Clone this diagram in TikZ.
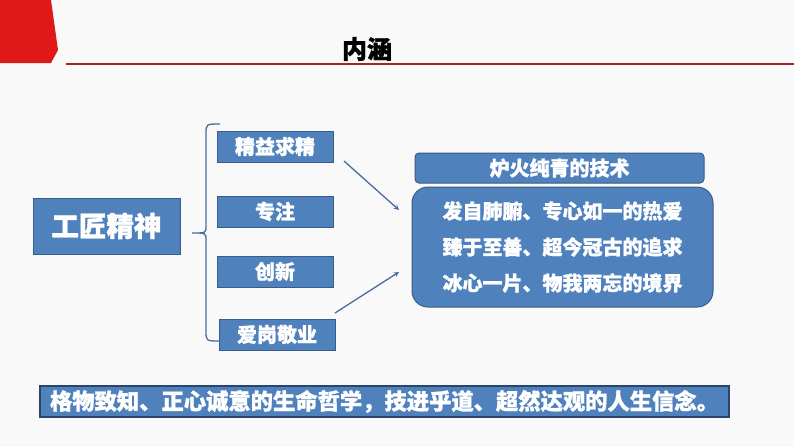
\documentclass[tikz,border=0pt]{standalone}
\usepackage{fontspec}
\setmainfont{Noto Sans CJK SC}[BoldFeatures={FakeBold=1.2}]
\usetikzlibrary{arrows}

\newlength{\du}
\setlength{\du}{10\unitlength}

\definecolor{pagebg}{rgb}{0.976000, 0.976000, 0.976000}
\definecolor{redmark}{rgb}{0.878000, 0.094000, 0.094000}
\definecolor{redline}{rgb}{0.620000, 0.150000, 0.150000}
\definecolor{boxfill}{rgb}{0.310000, 0.506000, 0.741000}
\definecolor{boxline}{rgb}{0.220000, 0.365000, 0.541000}
\definecolor{darkline}{rgb}{0.160000, 0.270000, 0.420000}
\definecolor{flowline}{rgb}{0.290000, 0.420000, 0.630000}

\tikzset{
  bluebox/.style={draw=boxline, fill=boxfill, line width=0.1\du, text=white,
    inner sep=0pt, font=\bfseries\fontsize{20}{24}\selectfont},
  keybox/.style={bluebox, minimum width=11.6\du, minimum height=3.1\du},
  flow/.style={draw=flowline, line width=0.13\du, -stealth},
}

\begin{document}
\begin{tikzpicture}
\pgftransformxscale{1.000000}
\pgftransformyscale{-1.000000}
\fill[pagebg] (0\du,0\du) rectangle (79.4\du,44.7\du);
\useasboundingbox (0\du,0\du) rectangle (79.4\du,44.7\du);
% corner mark and title rule
\fill[redmark] (0\du,0\du)--(5.1\du,0\du)--(5.8\du,5.0\du)--(5.1\du,6.3\du)--(0\du,6.3\du)--cycle;
\draw[redline, line width=0.15\du] (6.6\du,6.4\du)--(79.4\du,6.4\du);
\node (title) at (36.7\du,4.9\du) {\bfseries\fontsize{25}{30}\selectfont 内涵};
% left part
\node[bluebox, minimum width=14.7\du, minimum height=5.6\du,
  font=\bfseries\fontsize{27.5}{30}\selectfont] (spirit) at (10.65\du,22.6\du) {工匠精神};
\draw[draw=flowline, line width=0.13\du]
  (22.0\du,12.4\du) .. controls (20.6\du,12.4\du) .. (20.6\du,13.4\du)
  -- (20.6\du,22.6\du) .. controls (20.6\du,23.3\du) .. (19.2\du,23.3\du)
  .. controls (20.6\du,23.3\du) .. (20.6\du,24.0\du)
  -- (20.6\du,33.1\du) .. controls (20.6\du,34.1\du) .. (22.0\du,34.1\du);
\node[keybox] (jingyi) at (27.5\du,14.65\du) {精益求精};
\node[keybox] (zhuanzhu) at (27.5\du,21.15\du) {专注};
\node[keybox] (chuangxin) at (27.5\du,27.15\du) {创新};
\node[keybox] (aigang) at (27.7\du,33.45\du) {爱岗敬业};
% right part
\node[bluebox, rounded corners=0.4\du, minimum width=28.9\du, minimum height=3.0\du] (skill) at (55.95\du,16.8\du) {炉火纯青的技术};
\node[bluebox, rounded corners=1.6\du, minimum width=30.1\du, minimum height=12.0\du,
  align=center, font=\bfseries\fontsize{20}{36}\selectfont] (realm) at (56.25\du,24.7\du)
  {发自肺腑、专心如一的热爱\\臻于至善、超今冠古的追求\\冰心一片、物我两忘的境界};
% arrows
\coordinate (f1s) at (34.4\du,16.1\du);
\coordinate (f1e) at (39.9\du,21.0\du);
\coordinate (f2s) at (33.5\du,31.3\du);
\coordinate (f2e) at (39.9\du,27.2\du);
\draw[flow] (f1s)--(f1e);
\draw[flow] (f2s)--(f2e);
% bottom line
\node[bluebox, draw=darkline, line width=0.15\du, minimum width=68.9\du, minimum height=3.1\du,
  font=\bfseries\fontsize{22.3}{24}\selectfont] (belief) at (38.45\du,40.15\du)
  {格物致知、正心诚意的生命哲学，技进乎道、超然达观的人生信念。};
\end{tikzpicture}
\end{document}
